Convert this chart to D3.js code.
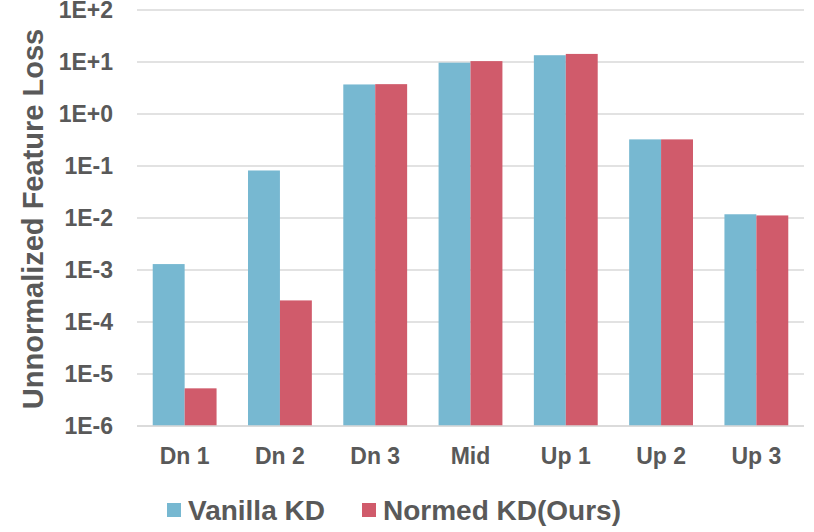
<!DOCTYPE html>
<html>
<head>
<meta charset="utf-8">
<script src="https://cdn.jsdelivr.net/npm/d3@7"></script>
<style>
  body { margin: 0; background: #fff; }
  text { font-family: "Liberation Sans", Arial, sans-serif; font-weight: bold; fill: #595959; }
</style>
</head>
<body>
<div id="chart"></div>
<script>
// Data
const categories = ["Dn 1", "Dn 2", "Dn 3", "Mid", "Up 1", "Up 2", "Up 3"];
const vanillaKD = [1.3e-3, 8.2e-2, 3.7, 9.7, 13.5, 0.325, 0.0118];
const normedKD = [5.3e-6, 2.6e-4, 3.75, 10.4, 14.3, 0.325, 0.0112];
const seriesNames = ["Vanilla KD", "Normed KD(Ours)"];
const seriesColors = ["#77b8d1", "#d05b6b"];
const tickValues = [1e-6, 1e-5, 1e-4, 1e-3, 1e-2, 1e-1, 1, 10, 100];
const tickLabels = ["1E-6", "1E-5", "1E-4", "1E-3", "1E-2", "1E-1", "1E+0", "1E+1", "1E+2"];

const width = 814, height = 532;
const plot = { left: 137, right: 804, top: 10, bottom: 426 };

const svg = d3.select("#chart").append("svg")
  .attr("width", width)
  .attr("height", height);

// Scales
const x = d3.scaleBand()
  .domain(categories)
  .range([plot.left, plot.right])
  .paddingInner(0.33)
  .paddingOuter(0.165);

const xInner = d3.scaleBand()
  .domain(seriesNames)
  .range([0, x.bandwidth()]);

const y = d3.scaleLog()
  .domain([1e-6, 100])
  .range([plot.bottom, plot.top]);

// Horizontal grid lines
svg.append("g")
  .selectAll("line")
  .data(tickValues)
  .join("line")
  .attr("x1", plot.left)
  .attr("x2", plot.right)
  .attr("y1", d => y(d))
  .attr("y2", d => y(d))
  .attr("stroke", "#d9d9d9")
  .attr("stroke-width", 1.5);

// Y tick labels
svg.append("g")
  .selectAll("text")
  .data(tickValues)
  .join("text")
  .attr("x", 113)
  .attr("y", d => y(d))
  .attr("dy", "0.36em")
  .attr("text-anchor", "end")
  .attr("font-size", 23)
  .text((d, i) => tickLabels[i]);

// Bars
const rows = categories.map((c, i) => ({ cat: c, values: [vanillaKD[i], normedKD[i]] }));

const groups = svg.append("g")
  .selectAll("g")
  .data(rows)
  .join("g")
  .attr("transform", d => `translate(${x(d.cat)},0)`);

groups.selectAll("rect")
  .data(d => d.values.map((v, j) => ({ name: seriesNames[j], value: v, j })))
  .join("rect")
  .attr("x", d => xInner(d.name))
  .attr("width", xInner.bandwidth())
  .attr("y", d => y(d.value))
  .attr("height", d => plot.bottom - y(d.value))
  .attr("fill", d => seriesColors[d.j]);

// X axis line (redrawn over bars)
svg.append("line")
  .attr("x1", plot.left)
  .attr("x2", plot.right)
  .attr("y1", plot.bottom)
  .attr("y2", plot.bottom)
  .attr("stroke", "#d9d9d9")
  .attr("stroke-width", 1.5);

// X labels
svg.append("g")
  .selectAll("text")
  .data(categories)
  .join("text")
  .attr("x", d => x(d) + x.bandwidth() / 2)
  .attr("y", 464)
  .attr("text-anchor", "middle")
  .attr("font-size", 23)
  .text(d => d);

// Y axis title
svg.append("text")
  .attr("transform", `translate(43,${(plot.top + plot.bottom) / 2 + 1}) rotate(-90)`)
  .attr("text-anchor", "middle")
  .attr("font-size", 29)
  .text("Unnormalized Feature Loss");

// Legend
const legendX = [167, 362];
const legend = svg.append("g")
  .selectAll("g")
  .data(seriesNames)
  .join("g")
  .attr("transform", (d, i) => `translate(${legendX[i]},503)`);

legend.append("rect")
  .attr("width", 14)
  .attr("height", 14)
  .attr("fill", (d, i) => seriesColors[i]);

legend.append("text")
  .attr("x", 21)
  .attr("y", 17)
  .attr("font-size", 28)
  .text(d => d);
</script>
</body>
</html>
